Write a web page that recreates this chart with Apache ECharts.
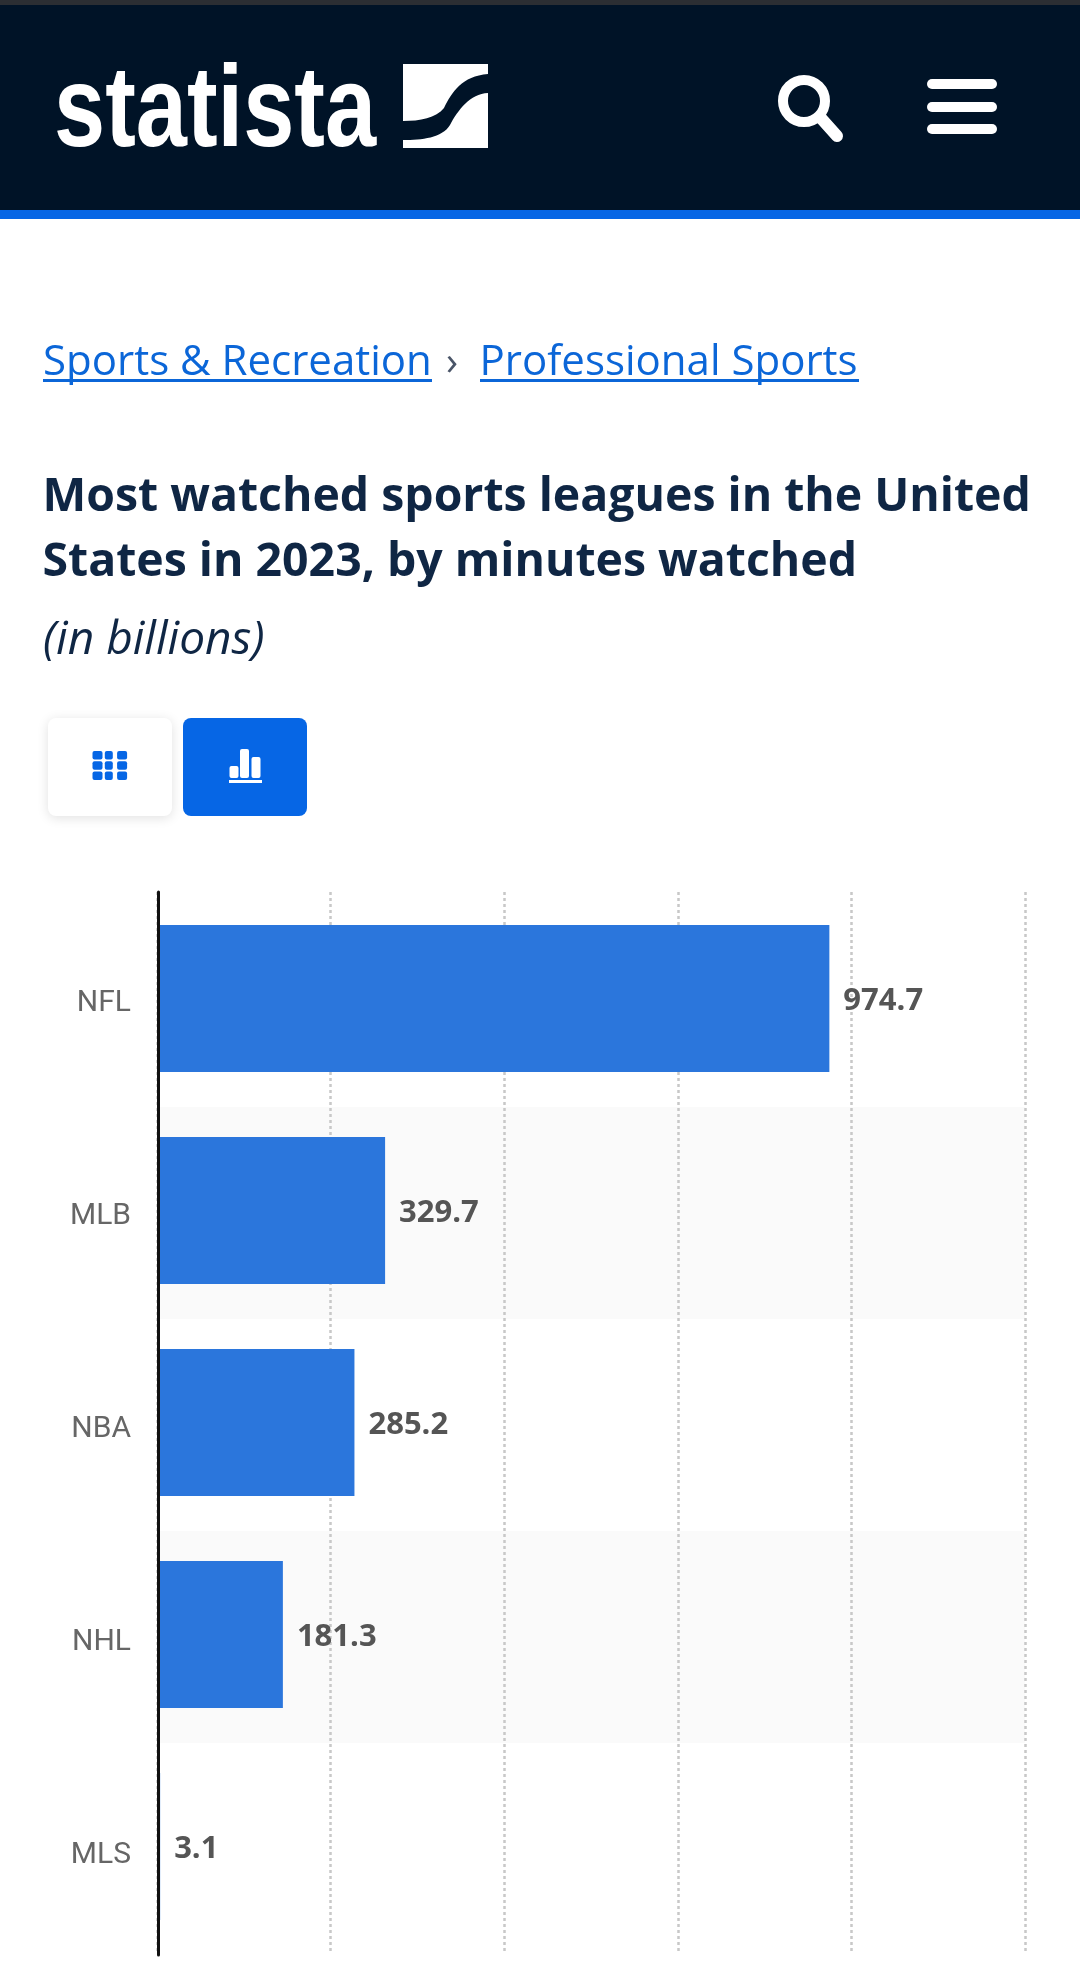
<!DOCTYPE html>
<html><head><meta charset="utf-8">
<script src="https://cdn.jsdelivr.net/npm/echarts@6/dist/echarts.min.js"></script>
<style>html,body{margin:0;padding:0;background:#fff}#c{width:1080px;height:1971px}</style>
</head><body><div id="c"></div>
<script>
const categories = ['NFL','MLB','NBA','NHL','MLS'];
const minutesWatched = [974.7,329.7,285.2,181.3,3.1];
const axisMax = 1250, axisStep = 250;
const BODY = '"Open Sans","Noto Sans",sans-serif';
const ink = '#0f2644', link = '#0b66d8', navy = '#001327', blue = '#0666e5';

echarts.graphic.registerShape('logoTop', echarts.graphic.extendShape({
  shape:{}, buildPath(c){
    c.moveTo(403,64);c.lineTo(488,64);c.lineTo(488,74);
    c.bezierCurveTo(462,76,452,92,444,108);c.bezierCurveTo(436,118,420,121,403,121);c.closePath();
  }}));
echarts.graphic.registerShape('logoBottom', echarts.graphic.extendShape({
  shape:{}, buildPath(c){
    c.moveTo(488,93);c.bezierCurveTo(470,94,458,110,450,125);c.bezierCurveTo(442,138,422,140,403,140);
    c.lineTo(403,148);c.lineTo(488,148);c.closePath();
  }}));

// y is the text baseline; the text element is laid out from its top edge
function txt(x,y,text,size,o){return {type:'text',x,y:y-0.79*size,silent:true,style:Object.assign({text,fill:ink,font:'400 '+size+'px '+BODY},o||{})};}
function box(x,y,w,h,fill,r,extra){return {type:'rect',silent:true,shape:{x,y,width:w,height:h,r:r||0},style:Object.assign({fill},extra||{})};}

const gridCells = [];
[[0,0],[1,0],[2,0],[0,1],[1,1],[2,1],[0,2],[1,2],[2,2]].forEach(([i,j])=>{
  gridCells.push(box(92.5+i*12.3,751+j*10.3,[10,8,10][i],8.4,blue,2));
});

const graphics = [
  box(0,0,1080,5,'#2b2e33'),
  box(0,5,1080,205,navy),
  box(0,210,1080,9,blue),
  Object.assign(txt(0,148,'statista',115,{fill:'#fff',font:'700 115px "Liberation Sans",sans-serif'}),{x:54,scaleX:0.8}),
  {type:'logoTop',silent:true,shape:{},style:{fill:'#fff'}},
  {type:'logoBottom',silent:true,shape:{},style:{fill:'#fff'}},
  {type:'circle',silent:true,shape:{cx:804,cy:101,r:21},style:{fill:'none',stroke:'#fff',lineWidth:10}},
  {type:'line',silent:true,shape:{x1:820,y1:117,x2:837,y2:136},style:{stroke:'#fff',lineWidth:12,lineCap:'round'}},
  box(927,79,70,10,'#fff',5), box(927,102,70,10,'#fff',5), box(927,124,70,10,'#fff',5),
  txt(43,375,'Sports & Recreation',42,{fill:link,font:'400 42px '+BODY}),
  box(43,379,389,3,link),
  txt(446,375,'›',40,{fill:'#4a5568',font:'400 40px '+BODY}),
  txt(479.5,375,'Professional Sports',42,{fill:link,font:'400 42px '+BODY}),
  box(480,379,379,3,link),
  txt(42.5,511,'Most watched sports leagues in the United',46.4,{font:'700 46.4px '+BODY}),
  txt(42.5,576,'States in 2023, by minutes watched',46.4,{font:'700 46.4px '+BODY}),
  txt(43,654,'(in billions)',46,{font:'italic 400 46px '+BODY}),
  box(48,718,124,98,'#fff',8,{shadowBlur:12,shadowColor:'rgba(0,0,0,0.12)',shadowOffsetY:2}),
  box(183,718,124,98,blue,8),
  ...gridCells,
  box(229.5,766,9,12,'#fff',2), box(240,749,9,29,'#fff',2), box(251.5,757,9,21,'#fff',2),
  box(229,780,33,3,'#fff')
];

function hiddenX(gridIndex, extra){
  return Object.assign({gridIndex,type:'value',min:0,max:axisMax,interval:axisStep,axisLabel:{show:false},axisLine:{show:false},axisTick:{show:false},splitLine:{show:false}},extra||{});
}
function plainY(gridIndex, extra){
  return Object.assign({gridIndex,type:'category',inverse:true,data:categories,axisTick:{show:false},axisLine:{show:false},axisLabel:{show:false},splitLine:{show:false}},extra||{});
}

const chart = echarts.init(document.getElementById('c'),null,{renderer:'canvas'});
chart.setOption({
  animation:false,
  backgroundColor:'#fff',
  graphic:{elements:graphics},
  grid:[
    {left:158,top:895,width:867,height:1060},   // row bands
    {left:157,top:892,width:868,height:1060},   // dotted value gridlines
    {left:158,top:892.5,width:861,height:1060}, // bars and value labels
    {left:158,top:892,width:867,height:1063},   // vertical axis line, over the bars
    {left:158,top:897,width:867,height:1065.5}  // category labels
  ],
  xAxis:[
    hiddenX(0),
    hiddenX(1,{splitLine:{show:true,lineStyle:{color:'#c8c8c8',width:2.5,type:[3,3]}}}),
    hiddenX(2),
    hiddenX(3),
    hiddenX(4)
  ],
  yAxis:[
    plainY(0,{splitArea:{show:true,areaStyle:{color:['#ffffff','#fafafa']}}}),
    plainY(1),
    plainY(2),
    plainY(3,{z:10,axisLine:{show:true,onZero:false,lineStyle:{color:'#111',width:3}}}),
    plainY(4,{axisLabel:{show:true,margin:27,color:'#666',fontFamily:'Roboto,"Liberation Sans",sans-serif',fontSize:30}})
  ],
  series:[{
    type:'bar',xAxisIndex:2,yAxisIndex:2,data:minutesWatched,barWidth:147,
    itemStyle:{color:'#2b76dc'},z:3,
    label:{show:true,position:'right',distance:14,offset:[0,3],color:'#555',fontFamily:BODY,fontWeight:700,fontSize:31,
      formatter:p=>p.value.toFixed(1)}
  }]
});
</script></body></html>
